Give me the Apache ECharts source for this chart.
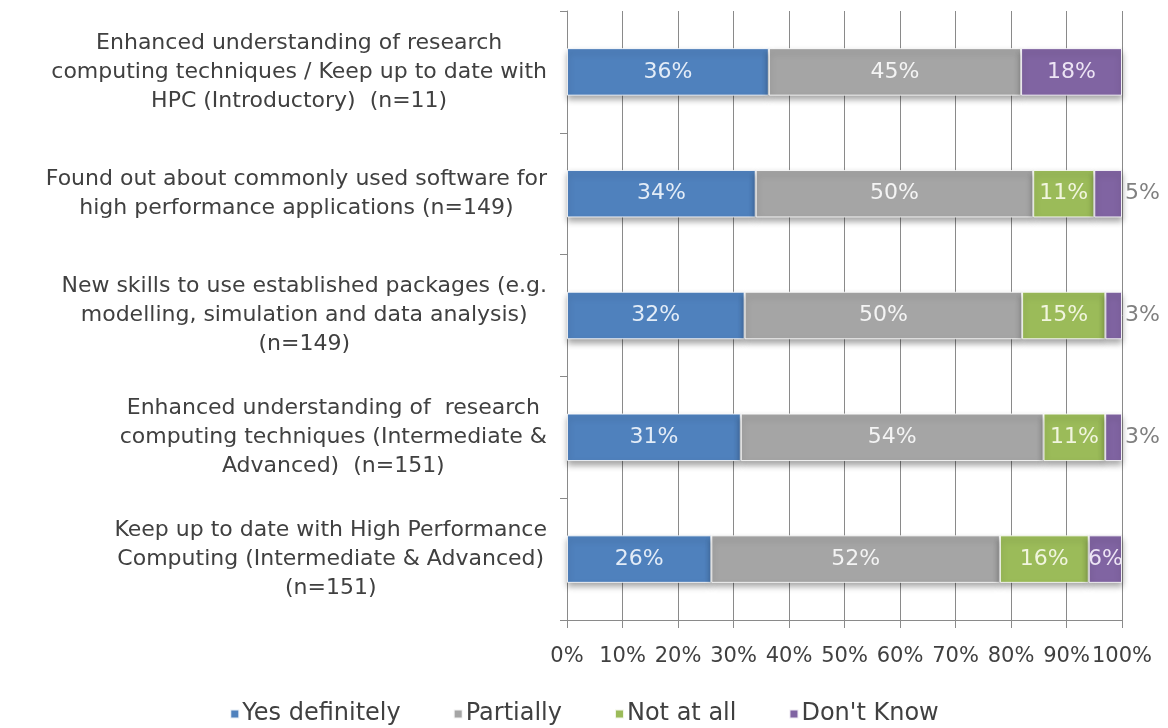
<!DOCTYPE html>
<html>
<head>
<meta charset="utf-8">
<title>Training outcomes</title>
<script src="https://cdn.jsdelivr.net/npm/echarts@6/dist/echarts.min.js"></script>
<style>
  html, body { margin: 0; padding: 0; background: #ffffff; }
  #chart { width: 1168px; height: 728px; }
</style>
</head>
<body>
<div id="chart"></div>
<script>
// Survey statements (top to bottom)
const categories = [
  'Enhanced understanding of research\ncomputing techniques / Keep up to date with\nHPC (Introductory)  (n=11)',
  'Found out about commonly used software for\nhigh performance applications (n=149)',
  'New skills to use established packages (e.g.\nmodelling, simulation and data analysis)\n(n=149)',
  'Enhanced understanding of  research\ncomputing techniques (Intermediate &\nAdvanced)  (n=151)',
  'Keep up to date with High Performance\nComputing (Intermediate & Advanced)\n(n=151)'
];

// Response shares, in percent
const yesDefinitely = [36, 34, 32, 31, 26];
const partially     = [45, 50, 50, 54, 52];
const notAtAll      = [null, 11, 15, 11, 16];
const dontKnow      = [18, 5, 3, 3, 6];

const seriesNames = ['Yes definitely', 'Partially', 'Not at all', "Don't Know"];
const xTicks = [0, 10, 20, 30, 40, 50, 60, 70, 80, 90, 100];

const palette = ['#4F81BD', '#A5A5A5', '#9BBB59', '#8064A2'];
const labelColors = ['#e3ecf7', '#f4f4f4', '#f1f5de', '#ece4f4'];

const groups = [yesDefinitely, partially, notAtAll, dontKnow];

// 100% stacked: every row is scaled by its own total
const rowTotals = categories.map((_, i) =>
  groups.reduce((s, g) => s + (g[i] == null ? 0 : g[i]), 0));

const FONT = '"DejaVu Sans", sans-serif';

const series = groups.map((vals, si) => ({
  name: seriesNames[si],
  type: 'bar',
  stack: 'total',
  barCategoryGap: '61%',
  itemStyle: {
    color: palette[si],
    borderColor: 'rgba(255,255,255,0.85)',
    borderWidth: 1,
    shadowColor: 'rgba(0,0,0,0.35)',
    shadowBlur: 6,
    shadowOffsetY: 4
  },
  label: {
    show: true,
    position: 'inside',
    fontFamily: FONT,
    fontSize: 22,
    color: labelColors[si],
    formatter: p => (vals[p.dataIndex] == null ? '' : vals[p.dataIndex] + '%')
  },
  data: vals.map((v, i) => {
    if (v == null) return null;
    const item = { value: v / rowTotals[i] * 100 };
    // narrow last segments carry their label just outside the bar
    if (si === 3 && v < 6) {
      item.label = { position: 'right', distance: 3, color: '#808080' };
    }
    return item;
  })
}));

const chart = echarts.init(document.getElementById('chart'), null, { renderer: 'canvas' });

chart.setOption({
  animation: false,
  backgroundColor: '#ffffff',
  grid: { left: 567, right: 46, top: 11, bottom: 108, containLabel: false },
  legend: {
    data: seriesNames,
    top: 697,
    left: 'center',
    icon: 'rect',
    itemWidth: 9,
    itemHeight: 9,
    itemGap: 52,
    textStyle: { fontFamily: FONT, fontSize: 24, color: '#404040', padding: [0, 0, 0, -2] }
  },
  xAxis: {
    type: 'value',
    min: xTicks[0],
    max: xTicks[xTicks.length - 1],
    interval: xTicks[1] - xTicks[0],
    axisLine: { show: true, lineStyle: { color: '#8a8a8a', width: 1 } },
    axisTick: { show: true, length: 8, lineStyle: { color: '#8a8a8a' } },
    splitLine: { show: true, lineStyle: { color: '#8a8a8a', width: 1 } },
    axisLabel: {
      margin: 26,
      fontFamily: FONT,
      fontSize: 21,
      color: '#404040',
      formatter: '{value}%'
    }
  },
  yAxis: {
    type: 'category',
    inverse: true,
    data: categories,
    axisLine: { show: true, lineStyle: { color: '#8a8a8a', width: 1 } },
    axisTick: { show: true, length: 7, lineStyle: { color: '#8a8a8a' } },
    splitLine: { show: false },
    axisLabel: {
      margin: 20,
      align: 'right',
      fontFamily: FONT,
      fontSize: 22,
      color: '#404040',
      lineHeight: 29,
      formatter: v => v.split('\n').map(l => '{c|' + l + '}').join('\n'),
      rich: {
        c: { align: 'center', fontFamily: FONT, fontSize: 22, color: '#404040', lineHeight: 29 }
      }
    }
  },
  series: series
});
</script>
</body>
</html>
